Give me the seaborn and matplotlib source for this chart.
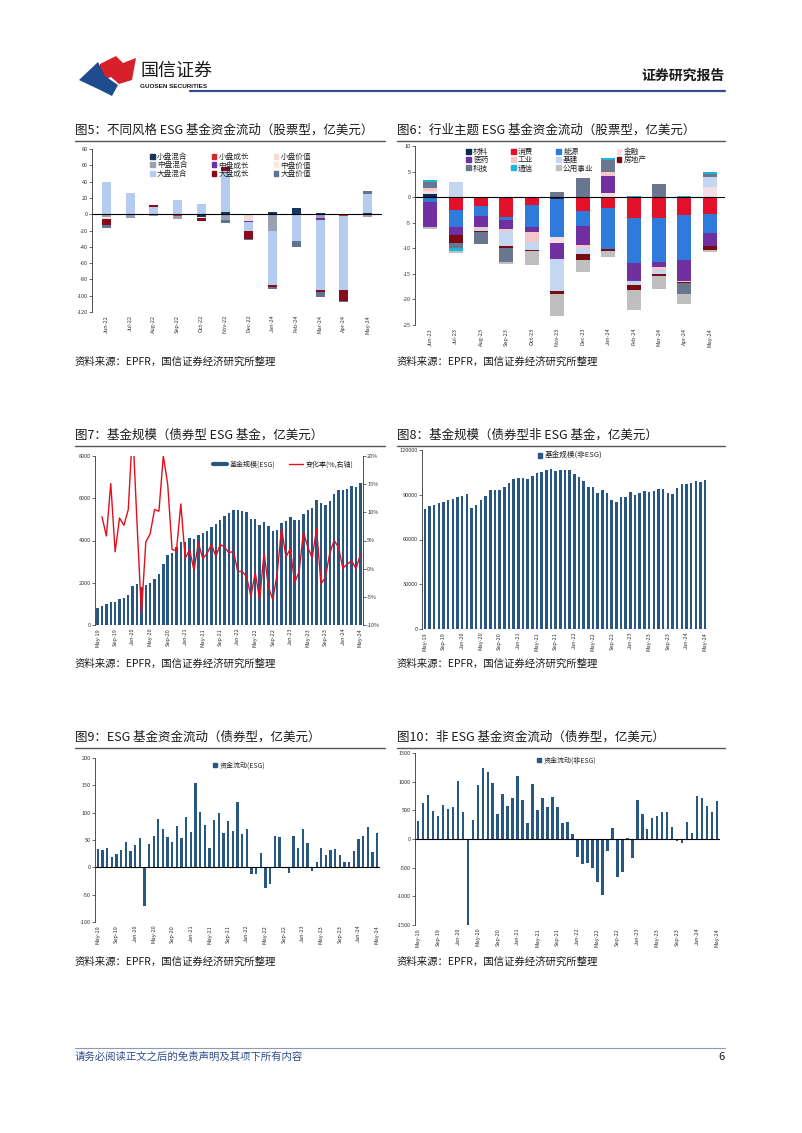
import numpy as np
import pandas as pd
import seaborn as sns
import matplotlib
matplotlib.use("Agg")
import matplotlib.pyplot as plt
from matplotlib.patches import Polygon, Patch
from matplotlib.lines import Line2D

# ---------------- data ----------------
style_months = ["Jun-22", "Jul-22", "Aug-22", "Sep-22", "Oct-22", "Nov-22",
                "Dec-22", "Jan-24", "Feb-24", "Mar-24", "Apr-24", "May-24"]
style_flows = {
    "小盘混合": [-1.5, -1.5, 0, 0, -3, 3, 0, 3, 7, 2, 0, 2],
    "小盘成长": [0, 0, 0, -2, 0, 0, -1, 0, 0, 0, -2, 0],
    "小盘价值": [0, 0, 0, 0, -2, 0, -7, 0, 0, 0, 0, 0],
    "中盘混合": [-2, -3, -2, -4, 0, -7, 0, -20, 0, -5, 0, -3],
    "中盘成长": [0, 0, 0, 0, 0, 0, -1, 0, 0, -2, 0, 0],
    "中盘价值": [-3, 0, 0, 0, 0, 0, 0, 0, 0, 0, 0, 0],
    "大盘混合": [39, 26, 9, 17, 13, 50, -12, -67, -33, -86, -91, 23],
    "大盘成长": [-7, 0, 2.5, 0, -3, 5, -10, -2, 0, -3, -13, 0],
    "大盘价值": [-4, 0, 0, 0, 0, -4, -1, -3, -7, -5, -2, 3],
}

sector_months = ["Jun-23", "Jul-23", "Aug-23", "Sep-23", "Oct-23", "Nov-23",
                 "Dec-23", "Jan-24", "Feb-24", "Mar-24", "Apr-24", "May-24"]
sector_flows = {
    "材料": [0.6, 0, 0, -0.2, 0, -0.4, 0, 0, -0.1, 0, 0, -0.2],
    "消费": [0, -2.6, -1.7, -3.6, -1.5, 0, -2.8, -2.2, -4.0, -4.1, -3.5, -3.1],
    "能源": [-1.0, -3.3, -2.0, -0.6, -4.4, -7.4, -2.9, -7.9, -8.8, -8.5, -8.7, -3.7],
    "金融": [0.6, 0, 0, 0, 0, -1.2, 0, 0.8, 0, 0, 0, 2.0],
    "医药": [-4.9, -1.5, -2.2, -1.9, -1.0, -3.0, -3.6, 3.4, -3.4, -1.0, -4.1, -2.5],
    "工业": [0.5, 0, -0.3, -0.3, -1.8, 0, -0.7, 0.8, 0, -0.6, -0.3, 0],
    "基建": [0, 3.0, -0.4, -2.9, -1.7, -6.3, -1.2, 0, -0.9, -0.9, 0, 2.0],
    "房地产": [0, -1.6, -0.3, -0.5, -0.2, -0.7, -1.0, -0.5, -0.9, -0.3, -0.2, -0.8],
    "科技": [1.3, -1.0, -2.2, -2.6, 0, 1.1, 3.7, 2.2, 0, 2.5, -2.2, 0.6],
    "通信": [0.4, -0.5, 0, 0, 0, 0, 0, 0.5, 0.3, 0, 0.3, 0.3],
    "公用事业": [-0.3, -0.5, 0, -0.4, -2.6, -4.3, -2.4, -1.2, -4.0, -2.5, -1.9, -0.5],
}

months = pd.date_range("2019-05-01", periods=61, freq="MS").strftime("%b-%y").tolist()

esg_size = [820, 910, 980, 1070, 1100, 1210, 1300, 1430, 1860, 1940, 1780, 1870,
            1970, 2170, 2410, 2880, 3290, 3390, 3700, 3920, 3920, 4110, 4090, 4270,
            4350, 4460, 4660, 4760, 4960, 5150, 5280, 5450, 5450, 5420, 5340, 5040,
            5040, 4740, 4880, 4710, 4440, 4500, 4830, 4910, 5090, 4960, 4960, 5240,
            5460, 5540, 5940, 5780, 5670, 5860, 6190, 6410, 6410, 6440, 6570, 6550,
            6720]
esg_chg = [9.2, 5.8, 15.1, 3.0, 9.0, 7.7, 10.5, 25.0, 8.0, -8.0, 4.7, 6.2,
           10.5, 10.2, 20.0, 15.0, 3.4, 3.2, 11.5, 1.8, 3.4, -0.3, 4.6, 1.8,
           2.7, 4.3, 2.2, 4.3, 3.8, 2.8, 3.1, -0.5, -0.5, -1.4, -4.9, -0.7,
           -5.5, 2.8, -3.2, -5.5, -0.9, 7.2, 2.1, 3.5, -2.4, -0.6, 6.5, 3.8,
           1.9, 7.1, -2.7, -1.6, 2.7, 5.0, 3.8, 0.1, 0.8, 1.4, 0.0, 2.5]

nonesg_size = [80500, 82500, 83000, 84500, 85000, 86500, 87000, 88300,
               89300, 90800, 81000, 83000, 86500, 89000, 93000, 93500,
               93000, 95500, 97800, 100300, 100900, 101200, 100300, 102500,
               104500, 105200, 106800, 107300, 106000, 106500, 106500, 106600,
               103600, 101800, 99500, 95500, 95300, 91200, 93200, 91000,
               86400, 85300, 88800, 88200, 91600, 89900, 91500, 92800,
               91800, 92700, 94000, 93700, 91300, 90500, 94400, 97300,
               97300, 97600, 99000, 98500, 100000]

esg_flow = [34, 31, 36, 18, 25, 32, 46, 30, 40, 54, -70, 42,
            58, 88, 70, 56, 47, 75, 54, 92, 64, 154, 102, 78,
            36, 87, 100, 63, 85, 67, 119, 61, 70, -12, -13, 26,
            -38, -30, 58, 56, -2, -11, 57, 36, 70, 45, -6, 9,
            36, 23, 31, 34, 23, 9, 9, 30, 51, 57, 74, 28, 63]

nonesg_flow = [310, 620, 770, 490, 400, 590, 530, 565, 1020, 465, -1500, 325,
               935, 1240, 1165, 970, 430, 780, 580, 715, 1095, 680, 275, 960,
               510, 720, 555, 730, 565, 280, 295, 80, -310, -430, -420, -500,
               -750, -980, -215, 195, -660, -580, 20, -330, 680, 440, 180, 365,
               405, 465, 465, 205, -40, -70, 295, 110, 750, 720, 575, 465, 670]

style_colors = {"小盘混合": "#17375E", "小盘成长": "#D9262B", "小盘价值": "#F2DCDB",
                "中盘混合": "#98A2B3", "中盘成长": "#7030A0", "中盘价值": "#FDE9D9",
                "大盘混合": "#B4CCF0", "大盘成长": "#8B0A1A", "大盘价值": "#5F7490"}
sector_colors = {"材料": "#0D2B4E", "消费": "#E3102A", "能源": "#2F7BDB", "金融": "#F4DDE6",
                 "医药": "#7030A0", "工业": "#F7C6C6", "基建": "#C5D6F0", "房地产": "#7B0A12",
                 "科技": "#68778F", "通信": "#1CB5D8", "公用事业": "#BFBFBF"}
NAVY = "#285784"

# ---------------- figure ----------------
sns.set_theme(style="white")
plt.rcParams["font.family"] = ["Noto Sans CJK SC", "DejaVu Sans"]
plt.rcParams["axes.unicode_minus"] = False

W, H = 802, 1133
fig = plt.figure(figsize=(W / 100, H / 100), dpi=100)


def box(l, t, r, b):
    return fig.add_axes([l / W, 1 - b / H, (r - l) / W, (b - t) / H])


def ftext(x, y, s, **kw):
    fig.text(x / W, 1 - y / H, s, **kw)


def fline(x0, x1, y, **kw):
    fig.add_artist(Line2D([x0 / W, x1 / W], [1 - y / H, 1 - y / H],
                          transform=fig.transFigure, **kw))


def style_ax(ax):
    for s in ["top", "right", "bottom"]:
        ax.spines[s].set_visible(False)
    ax.spines["left"].set_color("#333333")
    ax.spines["left"].set_linewidth(0.6)
    ax.tick_params(axis="y", labelsize=4, length=2, width=0.5, pad=1, colors="#333333", left=True)
    ax.tick_params(axis="x", labelsize=4, length=0, pad=2, colors="#333333", labelrotation=90)
    ax.set_xlabel("")
    ax.set_ylabel("")
    ax.grid(False)


def stacked(ax, cats, flows, colors, width):
    x = np.arange(len(cats))
    pos = np.zeros(len(cats))
    neg = np.zeros(len(cats))
    for name, vals in flows.items():
        v = np.array(vals, dtype=float)
        ax.bar(x, v, bottom=np.where(v >= 0, pos, neg), width=width, color=colors[name], linewidth=0)
        pos += np.clip(v, 0, None)
        neg += np.clip(v, None, 0)
    ax.set_xticks(x)
    ax.set_xticklabels(cats)
    ax.set_xlim(-0.6, len(cats) - 0.4)
    ax.axhline(0, color="black", lw=0.8)


def leg(ax, handles, labels, anchor, ncol=1, fs=5, colsp=2.2):
    ax.legend(handles, labels, loc="upper left", bbox_to_anchor=anchor, frameon=False,
              fontsize=fs, ncol=ncol, handlelength=0.6, handleheight=0.6,
              handletextpad=0.3, labelspacing=0.05, columnspacing=colsp, borderpad=0, borderaxespad=0)


def month_ticks(ax):
    ticks = list(range(0, 61, 4))
    ax.set_xticks(ticks)
    ax.set_xticklabels([months[i] for i in ticks])
    ax.set_xlim(-0.6, 60.6)


# ---------- header / footer ----------
fig.add_artist(Polygon([(x / W, 1 - y / H) for x, y in
                        [(100, 64), (116, 56), (123, 63), (136, 58), (132, 80), (119, 84), (111, 77), (99, 82)]],
                       closed=True, transform=fig.transFigure, color="#D7202A", lw=0))
fig.add_artist(Polygon([(x / W, 1 - y / H) for x, y in
                        [(79, 80), (98, 62), (105, 76), (118, 85), (112, 96), (98, 89)]],
                       closed=True, transform=fig.transFigure, color="#1E4C8F", lw=0))
ftext(140, 71, "国信证券", fontsize=13, color="#1a1a1a", va="center")
ftext(140, 87, "GUOSEN SECURITIES", fontsize=4.6, color="#1a1a1a", va="center",
      family=["Liberation Sans", "DejaVu Sans"], weight="bold")
ftext(725, 76, "证券研究报告", fontsize=10, weight="bold", color="#1a1a1a", ha="right", va="center")
fline(190, 725, 91, color="#2F4E8C", lw=1.6)
fline(75, 725, 1048, color="#8C9BB5", lw=0.8)
ftext(75, 1057, "请务必阅读正文之后的免责声明及其项下所有内容", fontsize=7.5, color="#2E4C8E", va="center", style="italic")
ftext(725, 1057, "6", fontsize=8, color="#1a1a1a", ha="right", va="center")

titles = [(75, 130, "图5：不同风格 ESG 基金资金流动（股票型，亿美元）"),
          (397, 130, "图6：行业主题 ESG 基金资金流动（股票型，亿美元）"),
          (75, 435, "图7：基金规模（债券型 ESG 基金，亿美元）"),
          (397, 435, "图8：基金规模（债券型非 ESG 基金，亿美元）"),
          (75, 737, "图9：ESG 基金资金流动（债券型，亿美元）"),
          (397, 737, "图10：非 ESG 基金资金流动（债券型，亿美元）")]
for x, y, t in titles:
    ftext(x, y, t, fontsize=9, color="#1a1a1a", va="center")
for y in [141, 446, 748]:
    fline(75, 385, y, color="#555555", lw=1)
    fline(397, 725, y, color="#555555", lw=1)
for y in [362, 664, 962]:
    ftext(75, y, "资料来源：EPFR，国信证券经济研究所整理", fontsize=7.5, color="#1a1a1a", va="center")
    ftext(397, y, "资料来源：EPFR，国信证券经济研究所整理", fontsize=7.5, color="#1a1a1a", va="center")

# ---------- fig 5 ----------
ax5 = box(92, 149, 382, 312)
stacked(ax5, style_months, style_flows, style_colors, 0.38)
ax5.set_ylim(-120, 80)
ax5.set_yticks(range(-120, 81, 20))
style_ax(ax5)
order5 = ["小盘混合", "中盘混合", "大盘混合", "小盘成长", "中盘成长", "大盘成长", "小盘价值", "中盘价值", "大盘价值"]
leg(ax5, [Patch(color=style_colors[k]) for k in order5], order5, (0.2, 0.975), ncol=3, fs=5.5, colsp=3.2)

# ---------- fig 6 ----------
ax6 = box(415, 146, 725, 325)
stacked(ax6, sector_months, sector_flows, sector_colors, 0.55)
ax6.set_ylim(-25, 10)
ax6.set_yticks(range(-25, 11, 5))
style_ax(ax6)
order6 = ["材料", "医药", "科技", "消费", "工业", "通信", "能源", "基建", "公用事业", "金融", "房地产"]
leg(ax6, [Patch(color=sector_colors[k]) for k in order6], order6, (0.165, 0.99), ncol=4, fs=5.5, colsp=3.0)

# ---------- fig 7 ----------
ax7 = box(95, 456, 363, 625)
sns.barplot(x=months, y=esg_size, color=NAVY, width=0.55, saturation=1, linewidth=0, ax=ax7)
ax7.set_ylim(0, 8000)
ax7.set_yticks(range(0, 8001, 2000))
style_ax(ax7)
ax7r = ax7.twinx()
sns.lineplot(x=np.arange(1, 61), y=esg_chg, color="#E0101E", lw=1, ax=ax7r)
ax7r.set_ylim(-10, 20)
ax7r.set_yticks(range(-10, 21, 5))
ax7r.set_yticklabels([f"{v}%" for v in range(-10, 21, 5)])
for s in ["top", "left", "bottom"]:
    ax7r.spines[s].set_visible(False)
ax7r.spines["right"].set_color("#333333")
ax7r.spines["right"].set_linewidth(0.6)
ax7r.tick_params(axis="y", labelsize=4, length=2, width=0.5, pad=1, colors="#333333", right=True)
ax7r.grid(False)
ax7r.set_ylabel("")
month_ticks(ax7)
ax7.axhline(0, color="#333333", lw=0.8)
ax7r.legend([Line2D([], [], color=NAVY, lw=3), Line2D([], [], color="#E0101E", lw=1)],
            ["基金规模(ESG)", "变化率(%,右轴)"], loc="upper left", bbox_to_anchor=(0.44, 0.975),
            frameon=False, fontsize=5, ncol=2, handlelength=2.0, handletextpad=0.4,
            columnspacing=2.0, borderpad=0, borderaxespad=0)

# ---------- fig 8 ----------
ax8 = box(422, 450, 708, 629)
sns.barplot(x=months, y=nonesg_size, color=NAVY, width=0.55, saturation=1, linewidth=0, ax=ax8)
ax8.set_ylim(0, 120000)
ax8.set_yticks(range(0, 120001, 30000))
style_ax(ax8)
month_ticks(ax8)
ax8.axhline(0, color="#333333", lw=0.8)
leg(ax8, [Patch(color=NAVY)], ["基金规模(非ESG)"], (0.405, 0.99), fs=5.5)

# ---------- fig 9 ----------
ax9 = box(95, 758, 380, 922)
sns.barplot(x=months, y=esg_flow, color=NAVY, width=0.5, saturation=1, linewidth=0, ax=ax9)
ax9.set_ylim(-100, 200)
ax9.set_yticks(range(-100, 201, 50))
style_ax(ax9)
month_ticks(ax9)
ax9.axhline(0, color="black", lw=0.8)
leg(ax9, [Patch(color=NAVY)], ["资金流动(ESG)"], (0.415, 0.98), fs=5)

# ---------- fig 10 ----------
ax10 = box(415, 753, 720, 925)
sns.barplot(x=months, y=nonesg_flow, color=NAVY, width=0.5, saturation=1, linewidth=0, ax=ax10)
ax10.set_ylim(-1500, 1500)
ax10.set_yticks(range(-1500, 1501, 500))
style_ax(ax10)
month_ticks(ax10)
ax10.axhline(0, color="black", lw=0.8)
leg(ax10, [Patch(color=NAVY)], ["资金流动(非ESG)"], (0.40, 0.98), fs=5)

fig.savefig("out.png", dpi=100)
